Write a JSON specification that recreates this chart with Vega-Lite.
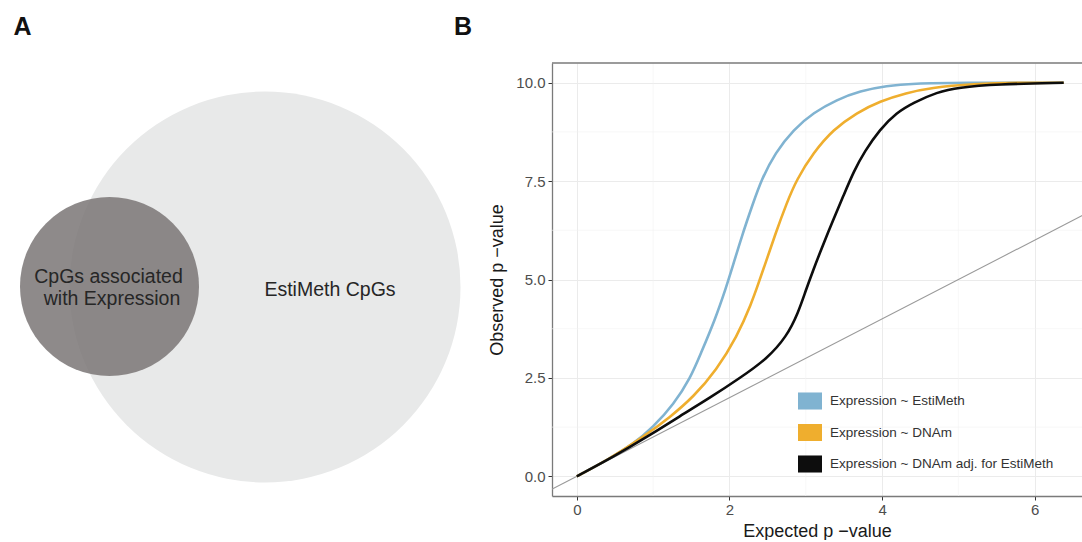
{
  "$schema": "https://vega.github.io/schema/vega-lite/v6.json",
  "padding": {"left": 0, "top": 15, "right": 0, "bottom": 0},
  "background": "white",
  "bounds": "flush",
  "spacing": 72,
  "config": {"view": {"stroke": null}, "font": "Liberation Sans"},
  "hconcat": [
    {
      "width": 480,
      "height": 433,
      "layer": [
        {
          "data": {"values": [{"set": "EstiMeth CpGs", "cx": 26.5, "cy": 20.9}]},
          "mark": {"type": "point", "filled": true, "shape": "circle", "opacity": 1, "strokeWidth": 0, "size": 152881, "color": "#e8e9e9"},
          "encoding": {
            "x": {"field": "cx", "type": "quantitative", "scale": {"domain": [0, 48], "nice": false, "zero": false}, "axis": null},
            "y": {"field": "cy", "type": "quantitative", "scale": {"domain": [0, 43.3], "nice": false, "zero": false}, "axis": null}
          }
        },
        {
          "data": {"values": [{"set": "CpGs associated with Expression", "cx": 10.95, "cy": 20.95}]},
          "mark": {"type": "point", "filled": true, "shape": "circle", "opacity": 0.85, "strokeWidth": 0, "size": 32041, "color": "#7a7676"},
          "encoding": {
            "x": {"field": "cx", "type": "quantitative", "scale": {"domain": [0, 48], "nice": false, "zero": false}, "axis": null},
            "y": {"field": "cy", "type": "quantitative", "scale": {"domain": [0, 43.3], "nice": false, "zero": false}, "axis": null}
          }
        },
        {
          "data": {"values": [
            {"label": "EstiMeth CpGs", "tx": 33, "ty": 20.6},
            {"label": "CpGs associated", "tx": 10.85, "ty": 21.9},
            {"label": "with Expression", "tx": 11.2, "ty": 19.7}
          ]},
          "mark": {"type": "text", "fontSize": 19.5, "color": "#262626", "align": "center", "baseline": "middle"},
          "encoding": {
            "x": {"field": "tx", "type": "quantitative", "scale": {"domain": [0, 48], "nice": false, "zero": false}, "axis": null},
            "y": {"field": "ty", "type": "quantitative", "scale": {"domain": [0, 43.3], "nice": false, "zero": false}, "axis": null},
            "text": {"field": "label"}
          }
        },
        {
          "data": {"values": [
            {"label": "A", "tx": 2.25, "ty": 46.9},
            {"label": "B", "tx": 46.3, "ty": 46.9}
          ]},
          "mark": {"type": "text", "fontSize": 25, "fontWeight": "bold", "color": "#111111", "align": "center", "baseline": "middle"},
          "encoding": {
            "x": {"field": "tx", "type": "quantitative", "scale": {"domain": [0, 48], "nice": false, "zero": false}, "axis": null},
            "y": {"field": "ty", "type": "quantitative", "scale": {"domain": [0, 43.3], "nice": false, "zero": false}, "axis": null},
            "text": {"field": "label"}
          }
        }
      ]
    },
    {
      "width": 530,
      "height": 433,
      "layer": [
        {
          "data": {"values": [{"v": 1}, {"v": 3}, {"v": 5}]},
          "mark": {"type": "rule", "color": "#f3f3f3", "strokeWidth": 0.6},
          "encoding": {
            "x": {"field": "v", "type": "quantitative", "title": "Expected p −value", "scale": {"domain": [-0.325, 6.62], "nice": false, "zero": false}}
          }
        },
        {
          "data": {"values": [{"v": 1.25}, {"v": 3.75}, {"v": 6.25}, {"v": 8.75}]},
          "mark": {"type": "rule", "color": "#f3f3f3", "strokeWidth": 0.6},
          "encoding": {
            "y": {"field": "v", "type": "quantitative", "title": "Observed p −value", "scale": {"domain": [-0.5, 10.5], "nice": false, "zero": false}}
          }
        },
        {
          "data": {"values": [{"v": 10.5}]},
          "mark": {"type": "rule", "color": "#7a7a7a", "strokeWidth": 1.3},
          "encoding": {
            "y": {"field": "v", "type": "quantitative", "title": "Observed p −value", "scale": {"domain": [-0.5, 10.5], "nice": false, "zero": false}}
          }
        },
        {
          "data": {"values": [{"ex": -1, "ob": -1}, {"ex": 8, "ob": 8}]},
          "mark": {"type": "line", "color": "#9a9a9a", "strokeWidth": 1.1, "clip": true},
          "encoding": {
            "x": {"field": "ex", "type": "quantitative", "title": "Expected p −value", "scale": {"domain": [-0.325, 6.62], "nice": false, "zero": false}},
            "y": {"field": "ob", "type": "quantitative", "title": "Observed p −value", "scale": {"domain": [-0.5, 10.5], "nice": false, "zero": false}}
          }
        },
        {
          "data": {"values": [
            {"model": "Expression ~ EstiMeth", "expected": 0, "observed": 0},
            {"model": "Expression ~ EstiMeth", "expected": 0.4, "observed": 0.41},
            {"model": "Expression ~ EstiMeth", "expected": 0.74, "observed": 0.82},
            {"model": "Expression ~ EstiMeth", "expected": 1.0, "observed": 1.25},
            {"model": "Expression ~ EstiMeth", "expected": 1.27, "observed": 1.83},
            {"model": "Expression ~ EstiMeth", "expected": 1.49, "observed": 2.5},
            {"model": "Expression ~ EstiMeth", "expected": 1.62, "observed": 3.1},
            {"model": "Expression ~ EstiMeth", "expected": 1.81, "observed": 3.97},
            {"model": "Expression ~ EstiMeth", "expected": 1.96, "observed": 4.82},
            {"model": "Expression ~ EstiMeth", "expected": 2.03, "observed": 5.25},
            {"model": "Expression ~ EstiMeth", "expected": 2.16, "observed": 6.09},
            {"model": "Expression ~ EstiMeth", "expected": 2.31, "observed": 6.94},
            {"model": "Expression ~ EstiMeth", "expected": 2.42, "observed": 7.54},
            {"model": "Expression ~ EstiMeth", "expected": 2.6, "observed": 8.22},
            {"model": "Expression ~ EstiMeth", "expected": 2.84, "observed": 8.81},
            {"model": "Expression ~ EstiMeth", "expected": 3.1, "observed": 9.24},
            {"model": "Expression ~ EstiMeth", "expected": 3.41, "observed": 9.57},
            {"model": "Expression ~ EstiMeth", "expected": 3.71, "observed": 9.79},
            {"model": "Expression ~ EstiMeth", "expected": 4.06, "observed": 9.92},
            {"model": "Expression ~ EstiMeth", "expected": 4.41, "observed": 9.98},
            {"model": "Expression ~ EstiMeth", "expected": 5.0, "observed": 10},
            {"model": "Expression ~ EstiMeth", "expected": 6.38, "observed": 10},
            {"model": "Expression ~ DNAm", "expected": 0, "observed": 0},
            {"model": "Expression ~ DNAm", "expected": 0.4, "observed": 0.41},
            {"model": "Expression ~ DNAm", "expected": 0.87, "observed": 1.0},
            {"model": "Expression ~ DNAm", "expected": 1.22, "observed": 1.5},
            {"model": "Expression ~ DNAm", "expected": 1.53, "observed": 2.02},
            {"model": "Expression ~ DNAm", "expected": 1.83, "observed": 2.7},
            {"model": "Expression ~ DNAm", "expected": 2.1, "observed": 3.55},
            {"model": "Expression ~ DNAm", "expected": 2.29, "observed": 4.4},
            {"model": "Expression ~ DNAm", "expected": 2.38, "observed": 4.9},
            {"model": "Expression ~ DNAm", "expected": 2.47, "observed": 5.4},
            {"model": "Expression ~ DNAm", "expected": 2.6, "observed": 6.15},
            {"model": "Expression ~ DNAm", "expected": 2.75, "observed": 6.94},
            {"model": "Expression ~ DNAm", "expected": 2.88, "observed": 7.54},
            {"model": "Expression ~ DNAm", "expected": 3.1, "observed": 8.22},
            {"model": "Expression ~ DNAm", "expected": 3.36, "observed": 8.81},
            {"model": "Expression ~ DNAm", "expected": 3.67, "observed": 9.24},
            {"model": "Expression ~ DNAm", "expected": 3.97, "observed": 9.53},
            {"model": "Expression ~ DNAm", "expected": 4.32, "observed": 9.74},
            {"model": "Expression ~ DNAm", "expected": 4.63, "observed": 9.87},
            {"model": "Expression ~ DNAm", "expected": 5.2, "observed": 9.97},
            {"model": "Expression ~ DNAm", "expected": 5.8, "observed": 10},
            {"model": "Expression ~ DNAm", "expected": 6.38, "observed": 10},
            {"model": "Expression ~ DNAm adj. for EstiMeth", "expected": 0, "observed": 0},
            {"model": "Expression ~ DNAm adj. for EstiMeth", "expected": 0.5, "observed": 0.52},
            {"model": "Expression ~ DNAm adj. for EstiMeth", "expected": 0.92, "observed": 1.0},
            {"model": "Expression ~ DNAm adj. for EstiMeth", "expected": 1.31, "observed": 1.48},
            {"model": "Expression ~ DNAm adj. for EstiMeth", "expected": 1.75, "observed": 2.0},
            {"model": "Expression ~ DNAm adj. for EstiMeth", "expected": 2.14, "observed": 2.5},
            {"model": "Expression ~ DNAm adj. for EstiMeth", "expected": 2.49, "observed": 2.98},
            {"model": "Expression ~ DNAm adj. for EstiMeth", "expected": 2.75, "observed": 3.55},
            {"model": "Expression ~ DNAm adj. for EstiMeth", "expected": 2.9, "observed": 4.15},
            {"model": "Expression ~ DNAm adj. for EstiMeth", "expected": 3.0, "observed": 4.72},
            {"model": "Expression ~ DNAm adj. for EstiMeth", "expected": 3.1, "observed": 5.25},
            {"model": "Expression ~ DNAm adj. for EstiMeth", "expected": 3.19, "observed": 5.7},
            {"model": "Expression ~ DNAm adj. for EstiMeth", "expected": 3.36, "observed": 6.52},
            {"model": "Expression ~ DNAm adj. for EstiMeth", "expected": 3.49, "observed": 7.11},
            {"model": "Expression ~ DNAm adj. for EstiMeth", "expected": 3.63, "observed": 7.75},
            {"model": "Expression ~ DNAm adj. for EstiMeth", "expected": 3.77, "observed": 8.25},
            {"model": "Expression ~ DNAm adj. for EstiMeth", "expected": 3.97, "observed": 8.81},
            {"model": "Expression ~ DNAm adj. for EstiMeth", "expected": 4.19, "observed": 9.24},
            {"model": "Expression ~ DNAm adj. for EstiMeth", "expected": 4.41, "observed": 9.49},
            {"model": "Expression ~ DNAm adj. for EstiMeth", "expected": 4.72, "observed": 9.76},
            {"model": "Expression ~ DNAm adj. for EstiMeth", "expected": 5.0, "observed": 9.88},
            {"model": "Expression ~ DNAm adj. for EstiMeth", "expected": 5.5, "observed": 9.96},
            {"model": "Expression ~ DNAm adj. for EstiMeth", "expected": 6.38, "observed": 10}
          ]},
          "mark": {"type": "line", "strokeWidth": 2.6, "interpolate": "basis"},
          "encoding": {
            "x": {
              "field": "expected", "type": "quantitative", "title": "Expected p −value",
              "scale": {"domain": [-0.325, 6.62], "nice": false, "zero": false},
              "axis": {
                "values": [0, 2, 4, 6], "format": "d",
                "grid": true, "gridColor": "#ebebeb", "gridWidth": 1,
                "domainColor": "#7a7a7a", "domainWidth": 1.3,
                "tickColor": "#333333", "tickSize": 4, "tickWidth": 1,
                "labelFontSize": 15, "labelColor": "#4d4d4d", "labelPadding": 2,
                "titleFontSize": 18, "titleFontWeight": "normal", "titleColor": "#1a1a1a", "titlePadding": 5
              }
            },
            "y": {
              "field": "observed", "type": "quantitative", "title": "Observed p −value",
              "scale": {"domain": [-0.5, 10.5], "nice": false, "zero": false},
              "axis": {
                "values": [0, 2.5, 5, 7.5, 10], "format": ".1f",
                "grid": true, "gridColor": "#ebebeb", "gridWidth": 1,
                "domainColor": "#7a7a7a", "domainWidth": 1.3,
                "tickColor": "#333333", "tickSize": 4, "tickWidth": 1,
                "labelFontSize": 15, "labelColor": "#4d4d4d", "labelPadding": 3,
                "titleFontSize": 18, "titleFontWeight": "normal", "titleColor": "#1a1a1a", "titlePadding": 9
              }
            },
            "color": {
              "field": "model", "type": "nominal",
              "scale": {
                "domain": ["Expression ~ EstiMeth", "Expression ~ DNAm", "Expression ~ DNAm adj. for EstiMeth"],
                "range": ["#80b3d1", "#efae2e", "#0d0d0d"]
              },
              "legend": {
                "title": null, "orient": "none", "legendX": 798, "legendY": 326, "padding": 0,
                "symbolType": "M-1,-0.71L1,-0.71L1,0.71L-1,0.71Z", "symbolSize": 576,
                "symbolStrokeWidth": 0,
                "labelFontSize": 13.5, "labelColor": "#333333", "labelOffset": 8, "rowPadding": 10.5, "labelLimit": 400,
                "encode": {"symbols": {"update": {"fill": {"scale": "color", "field": "value"}, "opacity": {"value": 1}}}}
              }
            }
          }
        }
      ]
    }
  ]
}
